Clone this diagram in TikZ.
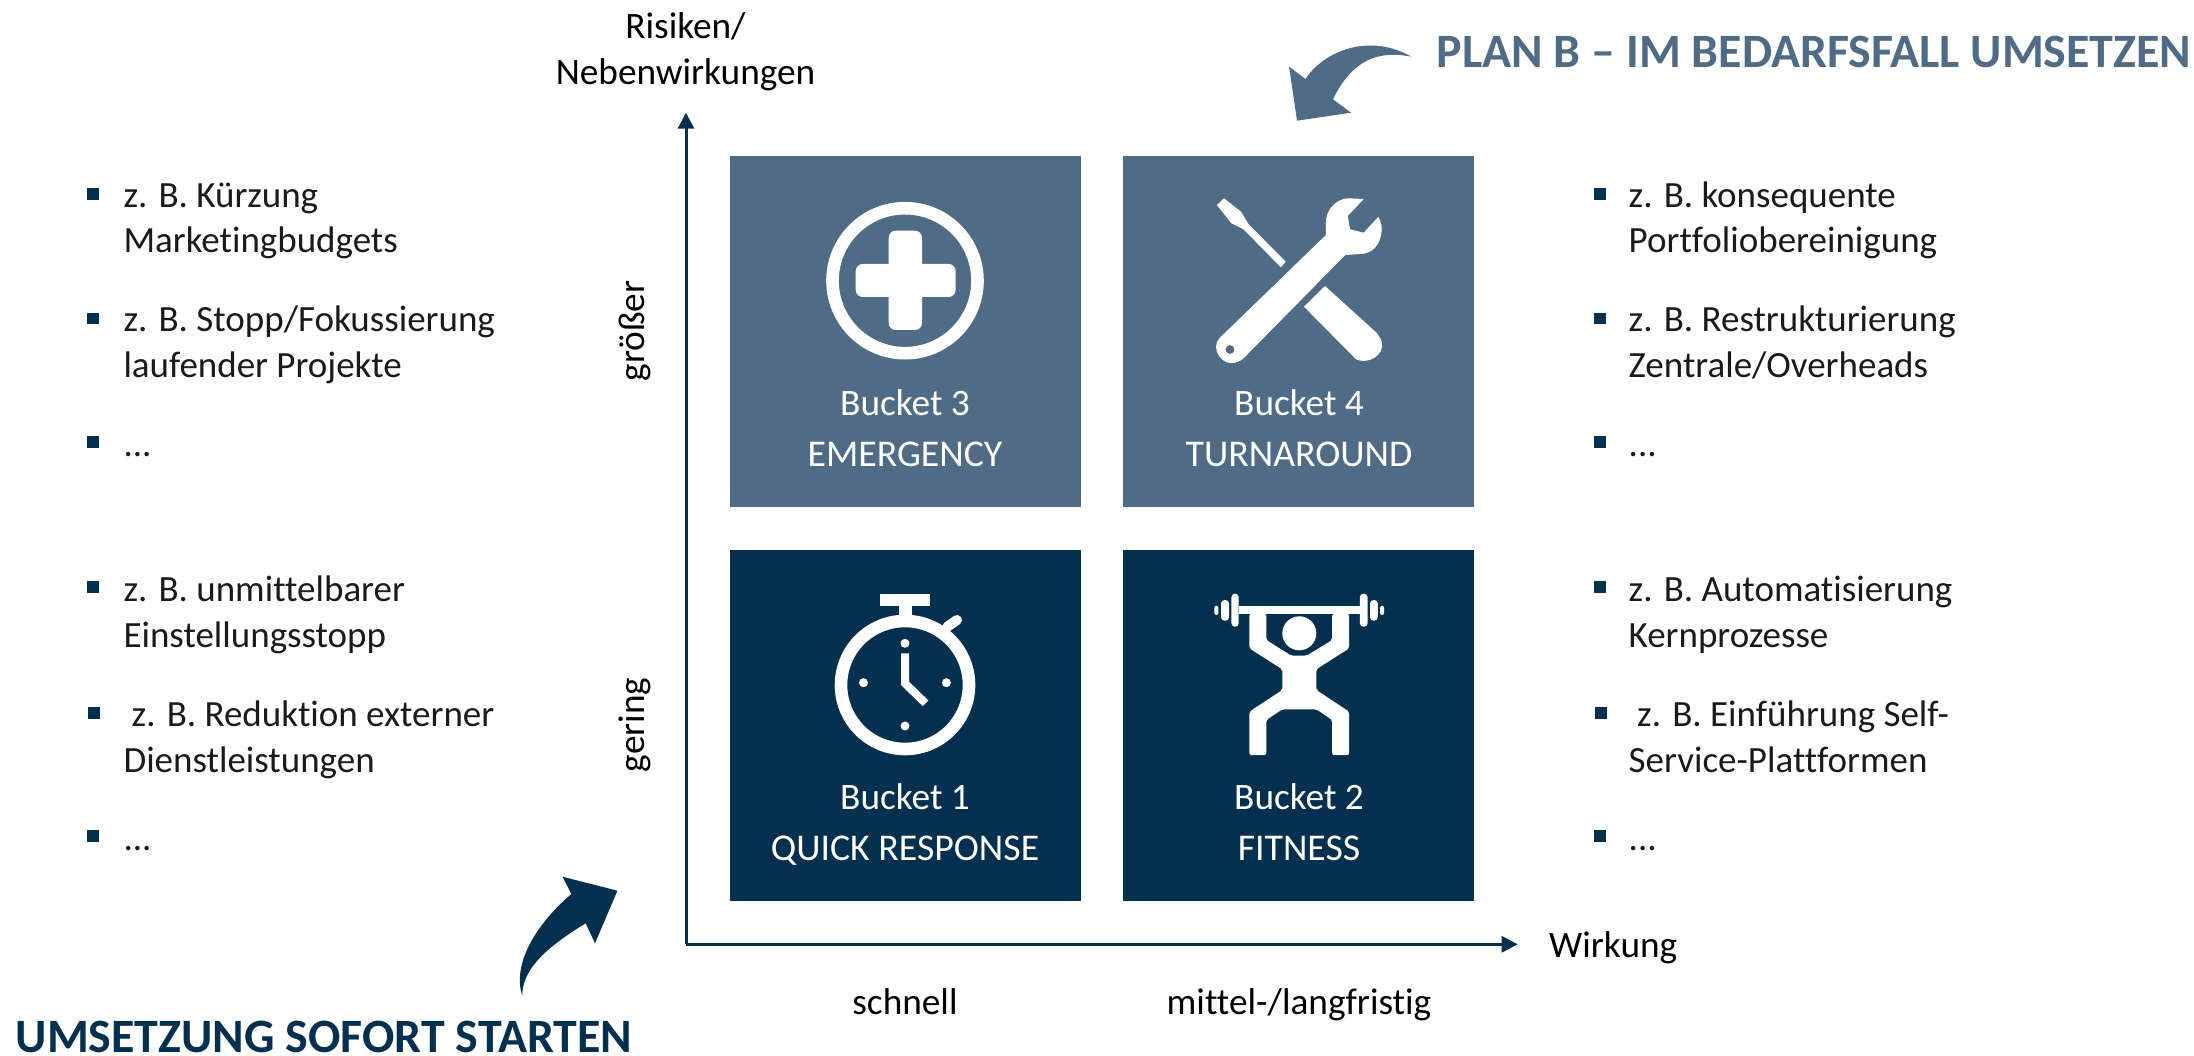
\documentclass[tikz,border=0pt]{standalone}
\usepackage{fontspec}
\setmainfont[Ligatures=CommonOff]{Carlito}
\definecolor{navy}{HTML}{03304F}
\definecolor{slateb}{HTML}{506B85}
\definecolor{txt}{HTML}{1A1A1A}
\usetikzlibrary{arrows.meta}
\tikzset{
  bucket/.style={draw=none,minimum width=351,minimum height=351,inner sep=0,anchor=north west},
  btitle/.style={text=white,anchor=base,font=\fontsize{37.3}{37.3}\selectfont,inner sep=0},
  bname/.style={text=white,anchor=base,font=\fontsize{37.8}{37.8}\selectfont,inner sep=0},
  lst/.style={text=txt,anchor=base west,font=\fontsize{37}{37}\selectfont,inner sep=0},
  axl/.style={text=black,anchor=base,font=\fontsize{37.3}{37.3}\selectfont,inner sep=0},
  bul/.style={fill=navy,draw=none,minimum size=11.5,inner sep=0},
  head/.style={anchor=base west,inner sep=0,font=\fontsize{47.9}{47.9}\selectfont\bfseries},
  axis/.style={draw=navy,line width=3,-{Triangle[length=16,width=16]}},
}
\begin{document}
\begin{tikzpicture}[x=1pt,y=-1pt]
\useasboundingbox (0,0) rectangle (2194,1056);
% buckets
\node[bucket,fill=slateb] (b3) at (730,156) {};
\node[bucket,fill=slateb] (b4) at (1123,156) {};
\node[bucket,fill=navy] (b1) at (730,550) {};
\node[bucket,fill=navy] (b2) at (1123,550) {};
% axes
\coordinate (o) at (686,944.3);
\coordinate (yend) at (686,112.7);
\coordinate (xend) at (1517.7,944.3);
\draw[axis] (o) -- (yend);
\draw[axis] (o) -- (xend);
% plus icon
\draw[white,line width=12.6] (905,280.7) circle (72.5);
\fill[white,rounded corners=7] (855.7,264) rectangle (955.6,297);
\fill[white,rounded corners=7] (888.7,230.7) rectangle (922,330);
% tools icon
\fill[white] (1216.9,205) -- (1224,198.3) -- (1241,211.7) -- (1248.4,224) -- (1285.7,261.7) -- (1280.8,267.3) -- (1243.5,229.3) -- (1231.4,223.3) -- cycle;
\fill[white] (1325,286) -- (1304,306.7) -- (1356,359.3) .. controls (1368,365) and (1385,355) .. (1381.7,342) .. controls (1381,338) and (1378,336) .. (1376.8,333) -- cycle;
\fill[white,even odd rule] (1219.3,338.3) -- (1325.9,235) -- (1325.9,221.7) .. controls (1326,210) and (1336,199) .. (1347.7,198.3) -- (1363.7,199) -- (1347.7,216) -- (1350,229.3) -- (1363.7,232.7) -- (1378.3,216.7) .. controls (1381,222) and (1382,226) .. (1381.7,230) .. controls (1381,245) and (1372,254) .. (1360,254) -- (1345.3,255) -- (1243.5,358.3) .. controls (1236,365) and (1225,365) .. (1219,356) .. controls (1215,350) and (1215,343) .. (1219.3,338.3) -- cycle (1230,349.5) circle (4.5);
% stopwatch
\draw[white,line width=12.6] (905,685) circle (64);
\fill[white] (880.4,593.7) rectangle (930.4,606);
\fill[white] (898.9,606) rectangle (911.5,618);
\draw[white,line width=10,line cap=round] (947,627) -- (957,620);
\fill[white] (905,643.3) circle (4.5) (863.5,682.7) circle (4.5) (946.4,682.7) circle (4.5) (905,726) circle (4.5);
\draw[white,line width=8] (905,653.3) -- (905,683.3) -- (925.5,703.3);
% fitness
\fill[white,rounded corners=3.5] (1231.4,593.7) rectangle (1238.7,626.7);
\fill[white,rounded corners=3.5] (1221,600) rectangle (1229,620.7);
\fill[white,rounded corners=2] (1214.4,605.7) rectangle (1218.3,615);
\fill[white,rounded corners=3.5] (1359.8,593.7) rectangle (1367.6,626.7);
\fill[white,rounded corners=3.5] (1370,600) rectangle (1377.8,620.7);
\fill[white,rounded corners=2] (1380.2,605.7) rectangle (1384,615);
\fill[white] (1238.7,606) rectangle (1359.8,614);
\fill[white] (1299.3,633.3) circle (17);
\fill[white,rounded corners=2] (1249.3,614) -- (1249.3,648.3) -- (1282.3,669.3) -- (1282.3,690) -- (1249.3,711.7) -- (1249.3,755) -- (1266.3,755) -- (1266.3,720) -- (1282.3,709.3) -- (1316.3,709.3) -- (1332.2,720) -- (1332.2,755) -- (1349.2,755) -- (1349.2,711.7) -- (1316.3,690) -- (1316.3,669.3) -- (1349.2,648.3) -- (1349.2,614) -- (1332.2,614) -- (1332.2,640) -- (1306.5,655.7) -- (1291.3,655.7) -- (1266.3,640) -- (1266.3,614) -- cycle;
% bucket labels
\node[btitle] (t3) at (905,415) {Bucket 3};
\node[bname] (n3) at (905,466.7) {EMERGENCY};
\node[btitle] (t4) at (1299,415) {Bucket 4};
\node[bname] (n4) at (1299,466.7) {TURNAROUND};
\node[btitle] (t1) at (905,809) {Bucket 1};
\node[bname] (n1) at (905,860.7) {QUICK RESPONSE};
\node[btitle] (t2) at (1299,809) {Bucket 2};
\node[bname] (n2) at (1299,860.7) {FITNESS};
% axis labels
\node[axl] (r1) at (685.5,39) {Risiken/};
\node[axl] (r2) at (685.5,85) {Nebenwirkungen};
\node[axl,anchor=base west] (w) at (1549,957) {Wirkung};
\node[axl] (sch) at (905,1014) {schnell};
\node[axl] (mit) at (1299,1014) {mittel-/langfristig};
\node[axl,rotate=90,anchor=center] (gr) at (635,331) {größer};
\node[axl,rotate=90,anchor=center] (ge) at (635,725) {gering};
% left list
\node[bul] (lb1) at (93,194) {};
\node[lst] (l1a) at (123.3,208) {z. B. Kürzung};
\node[lst] (l1b) at (123.3,253) {Marketingbudgets};
\node[bul] (lb2) at (93,318.7) {};
\node[lst] (l2a) at (123.3,332) {z. B. Stopp/Fokussierung};
\node[lst] (l2b) at (123.3,377) {laufender Projekte};
\node[bul] (lb3) at (93,442) {};
\node[lst] (l3) at (123.3,456) {...};
\node[bul] (lb4) at (93,587) {};
\node[lst] (l4a) at (123.3,601) {z. B. unmittelbarer};
\node[lst] (l4b) at (123.3,647) {Einstellungsstopp};
\node[bul] (lb5) at (94,713) {};
\node[lst] (l5a) at (131.5,726) {z. B. Reduktion externer};
\node[lst] (l5b) at (123.3,772) {Dienstleistungen};
\node[bul] (lb6) at (93,836) {};
\node[lst] (l6) at (123.3,850) {...};
% right list
\node[bul] (rb1) at (1600,194) {};
\node[lst] (r1a) at (1628.5,208) {z. B. konsequente};
\node[lst] (r1b) at (1628.5,253) {Portfoliobereinigung};
\node[bul] (rb2) at (1600,318.7) {};
\node[lst] (r2a) at (1628.5,332) {z. B. Restrukturierung};
\node[lst] (r2b) at (1628.5,377) {Zentrale/Overheads};
\node[bul] (rb3) at (1600,442) {};
\node[lst] (r3) at (1628.5,456) {...};
\node[bul] (rb4) at (1600,587) {};
\node[lst] (r4a) at (1628.5,601) {z. B. Automatisierung};
\node[lst] (r4b) at (1628.5,647) {Kernprozesse};
\node[bul] (rb5) at (1601,713) {};
\node[lst] (r5a) at (1637,726) {z. B. Einführung Self-};
\node[lst] (r5b) at (1628.5,772) {Service-Plattformen};
\node[bul] (rb6) at (1600,836) {};
\node[lst] (r6) at (1628.5,850) {...};
% headings
\node[head,text=slateb] (hp) at (1436.6,68) {PLAN B – IM BEDARFSFALL UMSETZEN};
\node[head,text=navy] (hu) at (15.6,1052) {UMSETZUNG SOFORT STARTEN};
% curved arrows
\fill[slateb] (1305.4,79) .. controls (1325,50) and (1370,33) .. (1411.3,56.7) .. controls (1378,50) and (1352,60) .. (1333,99.3) -- (1351.1,112.7) -- (1297,120.7) -- (1289.1,66.7) -- cycle;
\fill[navy] (571.4,894) .. controls (535,925) and (512,965) .. (522.3,995.7) .. controls (522,970) and (545,948) .. (585.7,923.3) -- (595,943.3) -- (617.4,890.7) -- (562.5,876.7) -- cycle;
\end{tikzpicture}
\end{document}
